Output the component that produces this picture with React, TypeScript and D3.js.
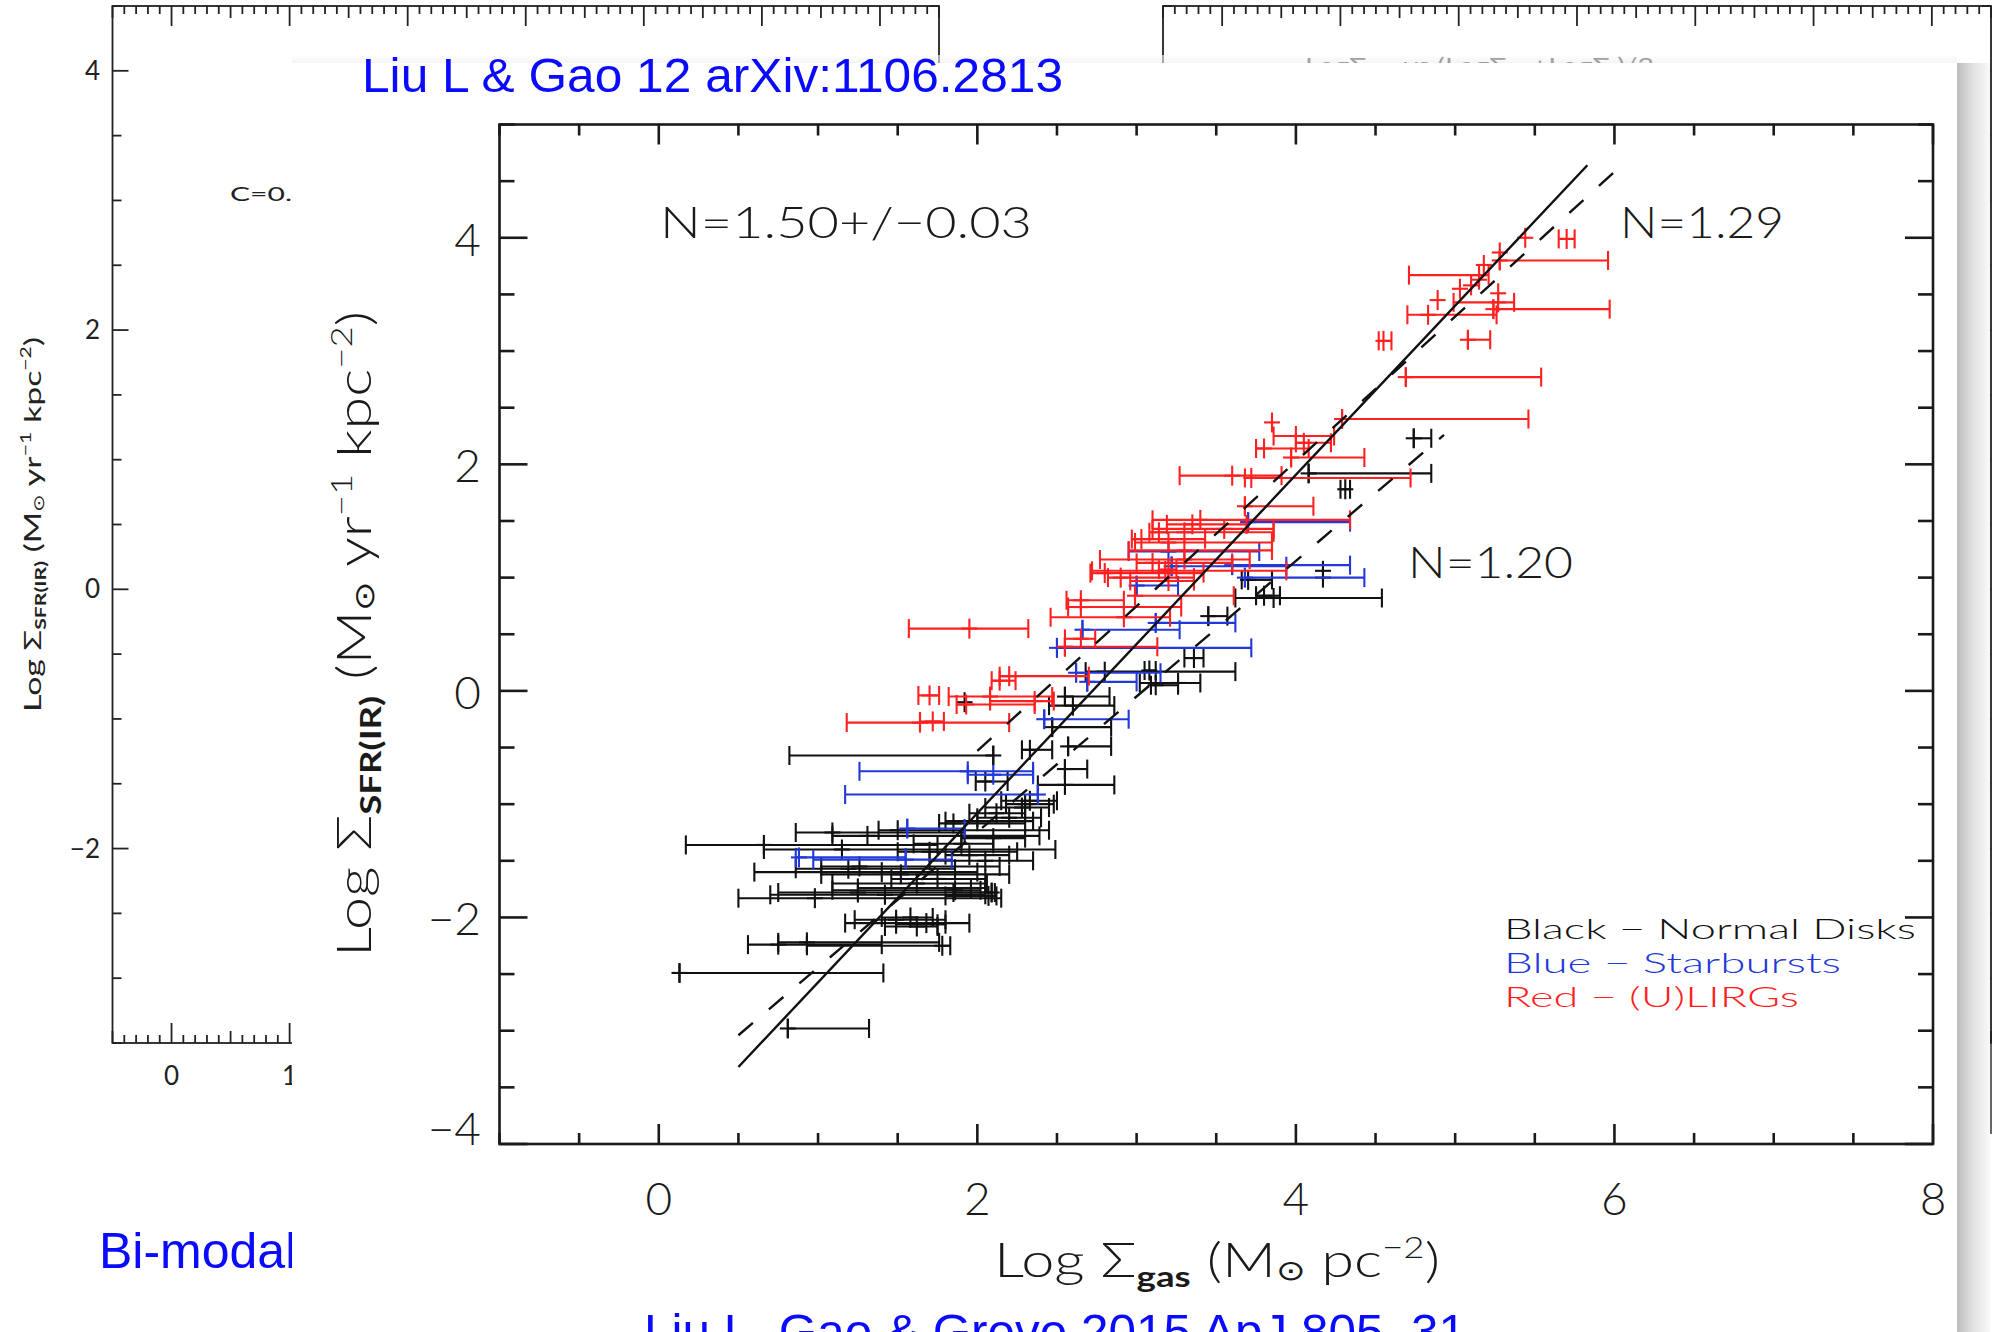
import React from 'react';
import * as d3 from 'd3';

// ---------- data ----------
// each point: [x (Log Σgas), xLow, xHigh, y (Log ΣSFR)]
const normalDisks = [
  [0.81, 0.81, 1.32, -2.98], [0.13, 0.13, 1.41, -2.49], [0.75, 0.56, 1.40, -2.24], [1.78, 0.93, 1.83, -2.25],
  [0.93, 0.75, 1.76, -2.22], [1.68, 1.17, 1.95, -2.05], [1.49, 1.23, 1.80, -2.02], [1.62, 1.42, 1.75, -2.08],
  [1.75, 1.49, 1.80, -2.06], [1.58, 1.40, 1.72, -2.00], [0.98, 0.50, 2.15, -1.83], [1.42, 0.70, 2.05, -1.80],
  [1.25, 0.75, 2.09, -1.78], [1.86, 1.09, 2.02, -1.76], [1.96, 1.25, 2.05, -1.74], [2.07, 1.80, 2.12, -1.81],
  [2.09, 1.85, 2.11, -1.78], [1.75, 1.46, 2.05, -1.66], [1.52, 1.02, 2.20, -1.62], [1.62, 1.09, 2.06, -1.70],
  [1.19, 0.86, 1.86, -1.57], [1.26, 1.02, 2.14, -1.55], [1.40, 0.60, 2.00, -1.60], [0.66, 0.17, 1.75, -1.36],
  [1.15, 0.66, 2.49, -1.40], [1.09, 0.86, 1.92, -1.25], [1.31, 1.09, 2.39, -1.28], [1.50, 1.38, 2.45, -1.23],
  [1.85, 1.76, 2.30, -1.17], [2.00, 1.80, 2.35, -1.15], [2.20, 2.00, 2.40, -1.12], [2.12, 1.95, 2.30, -1.08],
  [2.28, 2.05, 2.45, -1.03], [2.30, 2.18, 2.48, -1.00], [2.33, 2.15, 2.50, -0.97], [1.95, 1.80, 2.20, -1.45],
  [2.05, 1.70, 2.35, -1.50], [1.90, 1.60, 2.10, -1.35], [2.10, 1.90, 2.30, -1.30], [1.70, 1.50, 2.25, -1.42],
  [2.55, 2.38, 2.86, -0.83], [2.55, 2.55, 2.69, -0.69], [2.05, 1.99, 2.19, -0.80], [2.10, 0.82, 2.10, -0.57],
  [2.33, 2.28, 2.47, -0.52], [2.57, 2.57, 2.84, -0.49], [2.47, 2.47, 2.84, -0.32], [1.92, 1.92, 1.92, -0.10],
  [2.55, 2.55, 2.83, -0.05], [2.60, 2.45, 2.86, -0.13], [3.26, 3.02, 3.40, 0.07], [3.12, 3.09, 3.26, 0.05],
  [2.80, 2.68, 3.62, 0.17], [3.08, 3.05, 3.12, 0.18], [3.36, 3.30, 3.42, 0.29], [3.45, 3.45, 3.57, 0.66],
  [3.70, 3.66, 3.85, 0.98], [3.86, 3.62, 4.54, 0.82], [3.80, 3.75, 3.90, 0.84], [4.17, 4.17, 4.17, 1.06],
  [4.17, 4.17, 4.17, 1.00], [4.31, 4.28, 4.34, 1.78], [4.08, 4.08, 4.85, 1.92], [4.74, 4.74, 4.85, 2.23],
];

const starbursts = [
  [0.88, 0.86, 1.55, -1.47], [1.55, 0.97, 1.84, -1.49], [1.56, 1.56, 1.92, -1.215], [2.38, 1.17, 2.38, -0.915],
  [1.94, 1.26, 2.35, -0.71], [2.10, 1.94, 2.35, -0.74], [2.42, 2.42, 2.95, -0.25], [2.69, 2.69, 3.00, 0.08],
  [2.62, 2.62, 3.15, 0.16], [2.50, 2.50, 3.72, 0.38], [2.66, 2.66, 3.27, 0.54], [3.12, 3.12, 3.62, 0.60],
  [3.00, 3.00, 3.26, 0.93], [3.22, 3.22, 3.94, 1.10], [3.60, 3.60, 4.34, 1.11], [3.68, 3.68, 4.43, 1.00],
  [3.20, 2.95, 3.77, 1.23], [3.70, 3.70, 4.34, 1.49],
];

const ulirgs = [
  [1.64, 1.18, 2.20, -0.28], [1.72, 1.64, 1.79, -0.27], [1.70, 1.63, 1.76, -0.04], [2.08, 1.82, 2.47, -0.05],
  [2.36, 2.08, 2.48, -0.09], [1.93, 1.87, 2.36, -0.12], [2.14, 2.09, 2.24, 0.09], [2.20, 2.14, 2.70, 0.13],
  [2.55, 2.55, 3.13, 0.39], [2.65, 2.55, 2.74, 0.46], [1.95, 1.57, 2.32, 0.55], [2.92, 2.46, 3.21, 0.65],
  [2.65, 2.57, 3.28, 0.74], [2.65, 2.56, 2.92, 0.80], [2.99, 2.99, 3.61, 0.84], [2.80, 2.71, 3.42, 1.04],
  [2.90, 2.82, 3.36, 1.00], [3.20, 2.96, 3.36, 0.97], [3.18, 2.72, 3.94, 1.06], [3.20, 3.14, 3.25, 1.07],
  [3.30, 2.77, 3.71, 1.16], [3.10, 3.00, 3.60, 1.13], [3.30, 2.95, 3.85, 1.24], [3.03, 2.97, 3.43, 1.34],
  [3.14, 3.14, 3.14, 1.40], [3.35, 3.19, 3.69, 1.47], [3.55, 3.10, 3.86, 1.43], [3.40, 3.10, 4.34, 1.51],
  [3.20, 2.99, 3.85, 1.31], [3.30, 3.08, 3.86, 1.40], [3.68, 3.68, 4.11, 1.63], [3.60, 3.27, 3.91, 1.90],
  [3.72, 3.68, 4.72, 1.88], [3.97, 3.97, 4.43, 2.06], [3.80, 3.75, 4.08, 2.14], [4.05, 4.00, 4.22, 2.19],
  [4.00, 3.86, 4.24, 2.25], [3.85, 3.85, 3.85, 2.37], [4.29, 4.29, 5.46, 2.40], [4.69, 4.69, 5.54, 2.77],
  [4.55, 4.52, 4.60, 3.09], [5.08, 5.08, 5.22, 3.10], [4.83, 4.70, 5.26, 3.32], [5.24, 5.24, 5.97, 3.37],
  [5.27, 4.99, 5.37, 3.43], [4.89, 4.89, 4.89, 3.45], [5.03, 5.03, 5.03, 3.55], [5.10, 5.10, 5.10, 3.58],
  [5.15, 5.15, 5.15, 3.63], [5.15, 4.71, 5.21, 3.67], [5.18, 5.18, 5.18, 3.76], [5.28, 5.28, 5.96, 3.80],
  [5.28, 5.28, 5.28, 3.87], [5.44, 5.44, 5.44, 4.00], [5.70, 5.65, 5.75, 3.99], [5.27, 5.27, 5.27, 3.51],
];

// fitted relations: [x, y] end points
const fitN150 = [[0.50, -3.32], [5.83, 4.64]];
const fitN129 = [[2.00, -0.53], [6.03, 4.62]];
const fitN120 = [[0.50, -3.04], [4.93, 2.26]];

const mainXTickLabels = [0, 2, 4, 6, 8];
const mainYTickLabels = [-4, -2, 0, 2, 4];
const bgYTickLabels = [4, 2, 0, -2];
const bgXTickLabels = [0, 1];

const fitLabels = [
  { text: 'N=1.50+/\u22120.03', x: 660, y: 238, len: 372 },
  { text: 'N=1.29', x: 1620, y: 238, len: 164 },
  { text: 'N=1.20', x: 1408, y: 578, len: 165 },
];

const legendItems = [
  { label: 'Black \u2212 Normal Disks', color: '#111111', len: 412 },
  { label: 'Blue \u2212 Starbursts', color: '#2238d8', len: 337 },
  { label: 'Red \u2212 (U)LIRGs', color: '#ff2020', len: 295 },
];

const COLORS = { disk: '#111111', sb: '#2238d8', ulirg: '#ff2020' };

const HFONT = "Lato, 'DejaVu Sans', sans-serif";
const AFONT = "'Liberation Sans', Arial, sans-serif";

function ErrBar({ d, color, sx, sy }) {
  const [xc, lo, hi, yv] = d;
  const X0 = sx(lo), X1 = sx(hi), XC = sx(xc), Y = sy(yv);
  const hasBar = hi > lo;
  return (
    <g stroke={color} strokeWidth={2.1} fill="none">
      {hasBar && <line x1={X0} x2={X1} y1={Y} y2={Y} />}
      {hasBar && <line x1={X0} x2={X0} y1={Y - 9.5} y2={Y + 9.5} />}
      {hasBar && <line x1={X1} x2={X1} y1={Y - 9.5} y2={Y + 9.5} />}
      <line x1={XC - 8} x2={XC + 8} y1={Y} y2={Y} />
      <line x1={XC} x2={XC} y1={Y - 10} y2={Y + 10} />
    </g>
  );
}

function BgFrame({ sx, sy, x0, x1, y0, y1 }) {
  const xt = d3.range(-5, 66).map((i) => i / 10);
  const yt = d3.range(-7, 10).map((i) => i / 2);
  return (
    <g stroke="#222" strokeWidth={1.8} fill="none">
      <rect x={x0} y={y0} width={x1 - x0} height={y1 - y0} />
      {xt.map((v, i) => {
        const k = Math.round(v * 10);
        const len = k % 10 === 0 ? 20 : k % 5 === 0 ? 12 : 8;
        const X = sx(v);
        return (
          <g key={i}>
            <line x1={X} x2={X} y1={y0} y2={y0 + len} />
            <line x1={X} x2={X} y1={y1} y2={y1 - len} />
          </g>
        );
      })}
      {yt.map((v, i) => {
        const major = Math.round(v * 2) % 4 === 0;
        const len = major ? 16 : 9;
        const Y = sy(v);
        return (
          <g key={'y' + i}>
            <line x1={x0} x2={x0 + len} y1={Y} y2={Y} />
            <line x1={x1} x2={x1 - len} y1={Y} y2={Y} />
          </g>
        );
      })}
    </g>
  );
}

export default function App() {
  // main chart scales
  const x = d3.scaleLinear().domain([-1, 8]).range([499.5, 1933]);
  const y = d3.scaleLinear().domain([-4, 5]).range([1144, 124.5]);
  // background charts
  const lx = d3.scaleLinear().domain([-0.5, 6.5]).range([112.5, 939]);
  const ly = d3.scaleLinear().domain([-3.5, 4.5]).range([1043, 6]);
  const rx = d3.scaleLinear().domain([-0.5, 6.5]).range([1163, 1991]);

  const line = d3.line().x((p) => x(p[0])).y((p) => y(p[1]));

  const xTicks = d3.range(-2, 17).map((i) => i / 2);
  const yTicks = d3.range(-8, 11).map((i) => i / 2);
  const L = 499.5, R = 1933, T = 124.5, B = 1144;

  return (
    <svg width={1993} height={1332} style={{ position: 'absolute', left: 0, top: 0, background: '#fff' }}>
      <defs>
        <linearGradient id="shadowR" x1="0" x2="1" y1="0" y2="0">
          <stop offset="0" stopColor="#bcbcbc" />
          <stop offset="0.5" stopColor="#e2e2e2" />
          <stop offset="1" stopColor="#f9f9f9" />
        </linearGradient>
        <linearGradient id="shadowT" x1="0" x2="0" y1="0" y2="1">
          <stop offset="0" stopColor="#ffffff" />
          <stop offset="1" stopColor="#ececec" />
        </linearGradient>
      </defs>
      <rect x={0} y={0} width={1993} height={1332} fill="#fff" />

      {/* ---------- background left chart ---------- */}
      <BgFrame sx={lx} sy={ly} x0={112.5} x1={939} y0={6} y1={1043} />
      <g fontFamily={HFONT} fontSize={26} fill="#222">
        {bgYTickLabels.map((v) => (
          <text key={v} x={100} y={ly(v) + 9} textAnchor="end">{v < 0 ? '\u2212' + Math.abs(v) : v}</text>
        ))}
        {bgXTickLabels.map((v) => (
          <text key={'x' + v} x={lx(v)} y={1085} textAnchor="middle">{v}</text>
        ))}
      </g>
      <text x={230} y={201} fontFamily={HFONT} fontSize={20} fill="#222" textLength={62} lengthAdjust="spacingAndGlyphs">C=0.</text>
      <text transform="translate(41,712) rotate(-90)" fontFamily={HFONT} fontSize={24} fill="#222"
        textLength={375} lengthAdjust="spacingAndGlyphs">
        Log Σ<tspan fontSize={15} fontWeight="bold" dy={5}>SFR(IR)</tspan><tspan dy={-5}> (M</tspan><tspan fontSize={15} dy={3}>⊙</tspan><tspan dy={-3}> yr</tspan><tspan fontSize={15} dy={-10}>{'\u22121'}</tspan><tspan dy={10}> kpc</tspan><tspan fontSize={15} dy={-10}>{'\u22122'}</tspan><tspan dy={10}>)</tspan>
      </text>

      {/* ---------- background right chart ---------- */}
      <BgFrame sx={rx} sy={ly} x0={1163} x1={1991} y0={6} y1={1043} />
      <line x1={1991} x2={1991} y1={1043} y2={1134} stroke="#333" strokeWidth={1.5} />
      <text x={1305} y={73} fontFamily={HFONT} fontSize={21} fill="#222" textLength={349} lengthAdjust="spacingAndGlyphs">
        LogΣ<tspan fontSize={13} dy={5}>SFR</tspan><tspan dy={-5}> vs (LogΣ</tspan><tspan fontSize={13} dy={5}>gas</tspan><tspan dy={-5}>+LogΣ</tspan><tspan fontSize={13} dy={5}>*</tspan><tspan dy={-5}>)/2</tspan>
      </text>

      {/* slide caption behind the panel */}
      <text x={99} y={1268} fontFamily={AFONT} fontSize={50} fill="#0a0aff">Bi-modal</text>

      {/* ---------- overlay panel ---------- */}
      <rect x={292} y={55} width={1665} height={8} fill="url(#shadowT)" opacity={0.6} />
      <rect x={1957} y={63} width={33} height={1269} fill="url(#shadowR)" />
      <rect x={292} y={63} width={1665} height={1269} fill="#ffffff" />

      <text x={362} y={92} fontFamily={AFONT} fontSize={49} fill="#0a0aff" textLength={701} lengthAdjust="spacingAndGlyphs">
        Liu L &amp; Gao 12 arXiv:1106.2813
      </text>
      <text x={644} y={1348} fontFamily={AFONT} fontSize={49} fill="#0a0aff" textLength={822} lengthAdjust="spacingAndGlyphs">
        Liu L, Gao &amp; Greve 2015 ApJ 805, 31
      </text>

      {/* ---------- main chart ---------- */}
      <g>
        {normalDisks.map((d, i) => <ErrBar key={'k' + i} d={d} color={COLORS.disk} sx={x} sy={y} />)}
        {starbursts.map((d, i) => <ErrBar key={'b' + i} d={d} color={COLORS.sb} sx={x} sy={y} />)}
        {ulirgs.map((d, i) => <ErrBar key={'r' + i} d={d} color={COLORS.ulirg} sx={x} sy={y} />)}
      </g>
      <g fill="none" stroke="#111" strokeWidth={2.4}>
        <path d={line(fitN150)} />
        <path d={line(fitN129)} strokeDasharray="19 21" />
        <path d={line(fitN120)} strokeDasharray="19 21" />
      </g>

      {/* frame and ticks */}
      <g stroke="#1a1a1a" strokeWidth={2.6} fill="none">
        <rect x={L} y={T} width={R - L} height={B - T} />
        {xTicks.map((v, i) => {
          const len = Math.round(v * 2) % 4 === 0 ? 20 : 11;
          const X = x(v);
          return (
            <g key={'xt' + i}>
              <line x1={X} x2={X} y1={B} y2={B - len} />
              <line x1={X} x2={X} y1={T} y2={T + len} />
            </g>
          );
        })}
        {yTicks.map((v, i) => {
          const len = Math.round(v * 2) % 4 === 0 ? 28 : 15;
          const Y = y(v);
          return (
            <g key={'yt' + i}>
              <line x1={L} x2={L + len} y1={Y} y2={Y} />
              <line x1={R} x2={R - len} y1={Y} y2={Y} />
            </g>
          );
        })}
      </g>

      <g fontFamily={HFONT} fontWeight={300} fill="#1a1a1a" fontSize={46}>
        {mainXTickLabels.map((v) => (
          <text key={'xl' + v} x={x(v)} y={1215} textAnchor="middle">{v}</text>
        ))}
        {mainYTickLabels.map((v) => (
          <text key={'yl' + v} x={481} y={Math.min(y(v) + 18, 1145)} textAnchor="end">
            {v < 0 ? '\u2212' + Math.abs(v) : v}
          </text>
        ))}
        {fitLabels.map((f) => (
          <text key={f.text} x={f.x} y={f.y} fontSize={43} textLength={f.len} lengthAdjust="spacingAndGlyphs">{f.text}</text>
        ))}

        <text x={994} y={1277} fontSize={47} textLength={446} lengthAdjust="spacingAndGlyphs">
          Log Σ<tspan fontSize={29} fontWeight="bold" dy={10}>gas</tspan><tspan dy={-10} fontSize={47}> (M</tspan><tspan fontSize={28} dy={3}>⊙</tspan><tspan dy={-3} fontSize={47}> pc</tspan><tspan fontSize={29} dy={-19}>{'\u22122'}</tspan><tspan dy={19} fontSize={47}>)</tspan>
        </text>
        <text transform="translate(371,957) rotate(-90)" fontSize={47} textLength={646} lengthAdjust="spacingAndGlyphs">
          Log Σ<tspan fontSize={29} fontWeight="bold" dy={10}>SFR(IR)</tspan><tspan dy={-10} fontSize={47}> (M</tspan><tspan fontSize={28} dy={3}>⊙</tspan><tspan dy={-3} fontSize={47}> yr</tspan><tspan fontSize={29} dy={-19}>{'\u22121'}</tspan><tspan dy={19} fontSize={47}> kpc</tspan><tspan fontSize={29} dy={-19}>{'\u22122'}</tspan><tspan dy={19} fontSize={47}>)</tspan>
        </text>
      </g>

      <g fontFamily={HFONT} fontWeight={300} fontSize={28}>
        {legendItems.map((it, i) => (
          <text key={it.label} x={1504} y={939 + i * 34} fill={it.color} textLength={it.len} lengthAdjust="spacingAndGlyphs">
            {it.label}
          </text>
        ))}
      </g>
    </svg>
  );
}
